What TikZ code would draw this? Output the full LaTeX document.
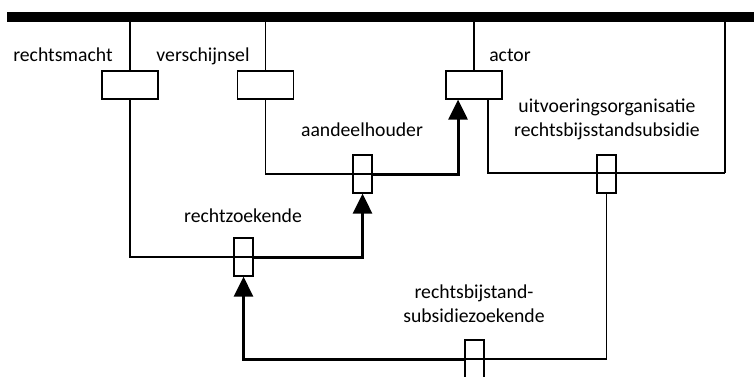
\documentclass[tikz,border=0pt]{standalone}
\usepackage{fontspec}
\setmainfont{Carlito}
\usetikzlibrary{arrows.meta}
\begin{document}
\begin{tikzpicture}[x=1pt,y=-1pt,
  thin line/.style={line width=1.2pt},
  thick arrow/.style={line width=3pt,-{Triangle[length=20pt,width=19pt]}},
  bigbox/.style={draw,line width=1.2pt,minimum width=56pt,minimum height=28pt,inner sep=0pt},
  smallbox/.style={draw,line width=1.2pt,minimum width=19pt,minimum height=38pt,inner sep=0pt},
  lbl/.style={font=\fontsize{19.7pt}{23.5pt}\selectfont,anchor=base,inner sep=0pt,align=center}]
\useasboundingbox (0,0) rectangle (754,376);
% bar
\node[fill=black,minimum width=747pt,minimum height=10pt,inner sep=0pt,anchor=north west] (bar) at (7,12) {};
% big boxes
\node[bigbox] (rm) at (130,85) {};
\node[bigbox] (vs) at (265.5,85) {};
\node[bigbox] (ac) at (474,85) {};
% small boxes
\node[smallbox] (ah) at (362.5,174) {};
\node[smallbox] (uv) at (606.5,174) {};
\node[smallbox] (rz) at (243.5,257) {};
\node[smallbox] (sz) at (474.5,359) {};
% coordinates
\coordinate (corner) at (725,173);
% labels
\node[lbl] (lrm) at (63,61) {rechtsmacht};
\node[lbl] (lvs) at (203,61) {verschijnsel};
\node[lbl] (lac) at (510,61) {actor};
\node[lbl] (lah) at (362,136) {aandeelhouder};
\node[lbl] (luv) at (607,136) {uitvoeringsorganisatie\\rechtsbijsstandsubsidie};
\node[lbl] (lrz) at (243,222) {rechtzoekende};
\node[lbl] (lsz) at (474,322) {rechtsbijstand-\\subsidiezoekende};
% connectors from bar
\draw[thin line] (rm.north |- bar.south) -- (rm.north);
\draw[thin line] (vs.north |- bar.south) -- (vs.north);
\draw[thin line] (ac.north |- bar.south) -- (ac.north);
\draw[thin line] (corner |- bar.south) -- (corner);
% thin links
\draw[thin line] (rm.south) |- (rz.east);
\draw[thin line] (vs.south) |- (ah.east);
\draw[thin line] ([xshift=14pt]ac.south) |- (corner);
\draw[thin line] (uv.south) |- (sz.west);
% thick arrows
\draw[thick arrow] (ah.east) -| ([xshift=-16pt]ac.south);
\draw[thick arrow] (rz.east) -| (ah.south);
\draw[thick arrow] (sz.west) -| (rz.south);
\end{tikzpicture}
\end{document}
